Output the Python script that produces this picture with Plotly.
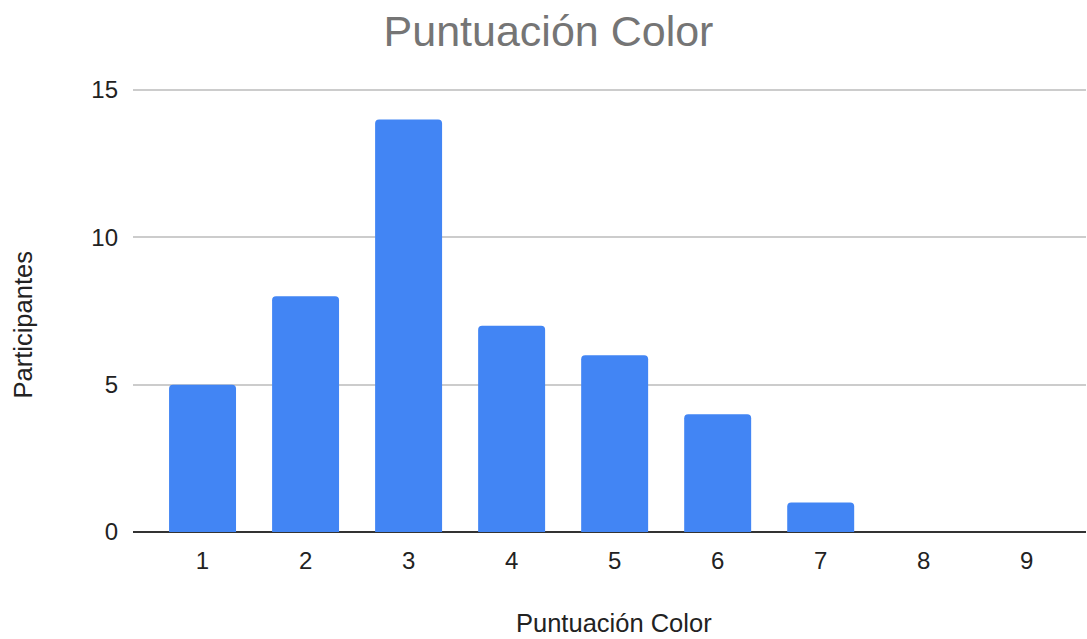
import plotly.graph_objects as go

categories = [1, 2, 3, 4, 5, 6, 7, 8, 9]
participantes = [5, 8, 14, 7, 6, 4, 1, 0, 0]
y_ticks = [0, 5, 10, 15]

L, R, T, B = 133, 1, 80, 107
W, H = 1087, 639
pw, ph = W - L - R, H - T - B

fig = go.Figure(go.Bar(
    x=categories, y=participantes,
    marker=dict(color="#4285F4", line=dict(width=0), cornerradius=4),
    width=0.65,
))

fig.update_layout(
    width=W, height=H,
    margin=dict(l=L, r=R, t=T, b=B),
    paper_bgcolor="white", plot_bgcolor="white",
    font=dict(family="Liberation Sans, Arial, sans-serif", size=24, color="#222222"),
    title=dict(text="Puntuación Color", x=0.5046, xanchor="center", y=0.951, yanchor="middle",
               font=dict(size=43, color="#757575")),
    showlegend=False,
    annotations=[
        dict(text="Puntuación Color", xref="paper", yref="paper",
             x=(613.5 - L) / pw, y=(T + ph - 623) / ph, xanchor="center", yanchor="middle",
             showarrow=False, font=dict(size=25.5, color="#222222")),
        dict(text="Participantes", xref="paper", yref="paper", textangle=-90,
             x=(22.5 - L) / pw, y=(T + ph - 325) / ph, xanchor="center", yanchor="middle",
             showarrow=False, font=dict(size=25.5, color="#222222")),
    ],
)
fig.update_xaxes(
    range=[0.325, 9.575], tickvals=categories, ticktext=[str(c) for c in categories],
    showgrid=False, zeroline=False, showline=False, ticks="", ticklabelstandoff=12,
)
fig.update_yaxes(
    range=[0, 15.34], tickvals=y_ticks, showgrid=True, gridcolor="#cccccc", gridwidth=1.5,
    zeroline=True, zerolinecolor="#333333", zerolinewidth=2,
    showline=False, ticks="", ticklabelstandoff=14,
)

fig.write_html("out.html", config={"displayModeBar": False},
               post_script="document.body.style.margin='0px';")
